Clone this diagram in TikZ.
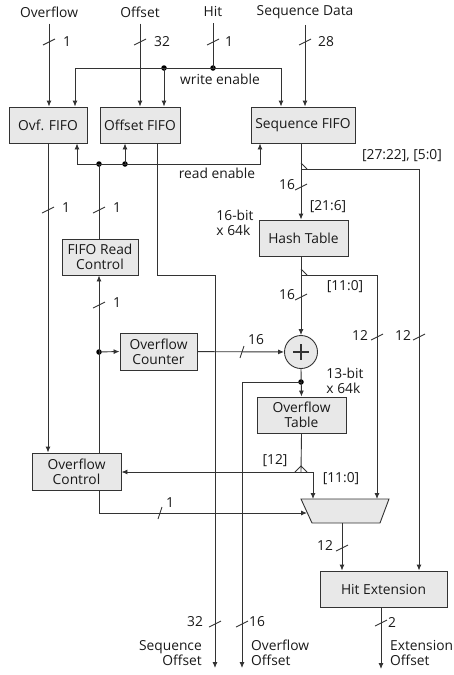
\documentclass[tikz,border=0pt]{standalone}
\usepackage{fontspec}
\setmainfont{Open Sans}
\usepackage{tikz}
\usetikzlibrary{
	arrows.meta,
	calc,
	positioning
}

\definecolor{boxgray}{HTML}{E8E8E8}
\definecolor{wiregray}{HTML}{333333}

\tikzset{
	blk/.style={draw=wiregray, fill=boxgray, line width=0.9pt, align=center,
		inner sep=1pt, font=\fontsize{13.8}{15}\selectfont, text=black!90},
	wire/.style={draw=wiregray, line width=0.9pt},
	arr/.style={wire, -{Latex[length=6pt,width=5pt]}},
	dot/.style={circle, fill=black, inner sep=0pt, minimum size=5.5pt},
	lbl/.style={font=\fontsize{13.8}{15}\selectfont, inner sep=1pt, text=black!90, align=center}
}

% bus slash on a vertical / horizontal wire
\newcommand{\vbus}[2]{\draw[wire] ($(#1,#2)+(-6,3)$) -- ($(#1,#2)+(6,-3)$);}
\newcommand{\hbus}[2]{\draw[wire] ($(#1,#2)+(-2,6)$) -- ($(#1,#2)+(2,-6)$);}
% bit split mark
\newcommand{\splitmark}[2]{\draw[wire] ($(#1,#2)+(0,-6)$) -- ($(#1,#2)+(6,0)$);}

\begin{document}
\begin{tikzpicture}[x=1pt, y=-1pt]
	\useasboundingbox (0,0) rectangle (453,675);
	
	% inputs
	\node[lbl] (inOvf) at (49,12) {Overflow};
	\node[lbl] (inOff) at (140,12) {Offset};
	\node[lbl] (inHit) at (213,12) {Hit};
	\node[lbl] (inSeq) at (305,12) {Sequence Data};
	
	% blocks
	\node[blk, minimum width=78, minimum height=36] (ovf) at (48,125) {Ovf. FIFO};
	\node[blk, minimum width=80, minimum height=36] (offs) at (140,125) {Offset FIFO};
	\node[blk, minimum width=104, minimum height=36] (seqf) at (303,125) {Sequence FIFO};
	\node[blk, minimum width=89, minimum height=36] (hash) at (303.5,238) {Hash Table};
	\node[blk, minimum width=76, minimum height=36] (frc) at (100,257) {FIFO Read\\Control};
	\node[blk, minimum width=77, minimum height=37] (ocnt) at (158.5,351.5) {Overflow\\Counter};
	\node[blk, circle, minimum size=33, inner sep=0pt,
		path picture={\draw[wiregray, line width=1.2pt]
			($(path picture bounding box.center)+(-8,0)$) -- ++(16,0)
			($(path picture bounding box.center)+(0,-8)$) -- ++(0,16);}] (add) at (301,352) {};
	\node[blk, minimum width=89, minimum height=36] (otab) at (301.5,415) {Overflow\\Table};
	\node[blk, minimum width=89, minimum height=37] (octl) at (76.5,471.5) {Overflow\\Control};
	\node[blk, minimum width=127, minimum height=36] (hext) at (383.5,589) {Hit Extension};
	\draw[wire, fill=boxgray] (301,499) coordinate (muxTL) -- (389,499) coordinate (muxTR)
		-- (380,523) coordinate (muxBR) -- (312,523) coordinate (muxBL) -- cycle;
	
	% helper points
	\coordinate (weL) at (75,68);
	\coordinate (weR) at (281,68);
	\coordinate (reL) at (77,164);
	\coordinate (reR) at (260,164);
	\coordinate (sb) at (301,169);
	\coordinate (sbR) at (419,169);
	\coordinate (hb) at (301,275);
	\coordinate (hbR) at (377,275);
	\coordinate (ob) at (301,472);
	\coordinate (obR) at (313,472);
	\coordinate (sqo1) at (157,275);
	\coordinate (sqo2) at (215,275);
	\coordinate (sqoOut) at (215,668);
	\coordinate (ofo1) at (242,382);
	\coordinate (ofoOut) at (242,668);
	\coordinate (ctl1) at (99,513);
	\coordinate (muxL) at (307,513);
	\coordinate (muxO) at (342,523);
	\coordinate (extO) at (381,607);
	\coordinate (extOut) at (381,669);
	
	% dots
	\node[dot] (we1) at (164,68) {};
	\node[dot] (we2) at (213,68) {};
	\node[dot] (re1) at (99,164) {};
	\node[dot] (re2) at (125,164) {};
	\node[dot] (cdot) at (99,352) {};
	\node[dot] (odot) at (301,382) {};
	
	% input wires
	\draw[arr, shorten <=5pt] (inOvf) -- (inOvf |- ovf.north);
	\draw[arr, shorten <=5pt] (inOff) -- (inOff |- offs.north);
	\draw[wire, shorten <=5pt] (inHit) -- (we2.center);
	\draw[arr, shorten <=5pt] (inSeq) -- (inSeq |- seqf.north);
	\vbus{49}{42} \vbus{140}{42} \vbus{213}{42} \vbus{305}{42}
	\node[lbl] (wOvf) at (67,42) {1};
	\node[lbl] (wOff) at (162,42) {32};
	\node[lbl] (wHit) at (229,42) {1};
	\node[lbl] (wSeq) at (326,42) {28};
	
	% write enable
	\draw[arr] (we2.center) -- (weL) -- (weL |- ovf.north);
	\draw[arr] (we2.center) -- (weR) -- (weR |- seqf.north);
	\draw[arr] (we1.center) -- (we1 |- offs.north);
	\node[lbl] (weLbl) at (220,79) {write enable};
	
	% read enable
	\draw[arr] (re1.center) -- (reL) -- (reL |- ovf.south);
	\draw[arr] (re1.center) -- (reR) -- (reR |- seqf.south);
	\draw[arr] (re2.center) -- (re2 |- offs.south);
	\draw[wire] (re1.center) -- (re1 |- frc.north);
	\node[lbl] (reLbl) at (217,173) {read enable};
	
	% ovf fifo -> overflow control
	\draw[arr] (ovf.south) -- (ovf.south |- octl.north);
	\vbus{48}{210}
	\node[lbl] (wOvf2) at (66,208) {1};
	\vbus{99}{210}
	\node[lbl] (wRe) at (117,208) {1};
	
	% offset fifo -> sequence offset
	\draw[arr] (offs.south -| sqo1) -- (sqo1) -- (sqo2) -- (sqoOut);
	\vbus{215}{624}
	\node[lbl] (wSqo) at (195,622) {32};
	\node[lbl, anchor=east, align=right] (outSqo) at (203,653) {Sequence\\Offset};
	
	% overflow control -> fifo read control, counter
	\draw[arr] (octl.north -| re1) -- (frc.south -| re1);
	\vbus{99}{305}
	\node[lbl] (wCtl) at (117,303) {1};
	\draw[arr] (cdot.center) -- (ocnt.west);
	\draw[arr] (ocnt) -- (add);
	\hbus{242}{352}
	\node[lbl] (wCnt) at (256,340) {16};
	
	% sequence fifo -> hash table, hit extension
	\draw[arr] (seqf.south -| sb) -- (hash.north -| sb);
	\draw[arr] (sb) -- (sbR) -- (sbR |- hext.north);
	\splitmark{301}{169}
	\vbus{301}{187}
	\node[lbl] (wSeq2) at (287,185) {16};
	\node[lbl] (bHash) at (328,207) {[21:6]};
	\node[lbl] (bExt) at (402,156) {[27:22], [5:0]};
	\node[lbl, align=left] (hashSz) at (235,223) {16-bit\\x 64k};
	
	% hash table -> adder, mux
	\draw[arr] (hash.south -| hb) -- (add.north);
	\draw[arr] (hb) -- (hbR) -- (hbR |- muxTL);
	\splitmark{301}{275}
	\vbus{301}{297}
	\node[lbl] (wHash) at (287,295) {16};
	\node[lbl] (bMux) at (345,287) {[11:0]};
	\vbus{377}{337} \vbus{419}{337}
	\node[lbl] (wMux) at (360,335) {12};
	\node[lbl] (wExt) at (403,335) {12};
	
	% adder -> overflow table, overflow offset
	\draw[arr] (add.south) -- (otab.north);
	\draw[arr] (odot.center) -- (ofo1) -- (ofoOut);
	\node[lbl, align=left] (otabSz) at (345,381) {13-bit\\x 64k};
	\vbus{242}{624}
	\node[lbl] (wOfo) at (257,622) {16};
	\node[lbl, anchor=west, align=left] (outOfo) at (250,653) {Overflow\\Offset};
	
	% overflow table -> overflow control, mux
	\draw[wire] (otab.south) -- (ob);
	\draw[arr] (ob) -- (ob -| octl.east);
	\draw[arr] (ob) -- (obR) -- (obR |- muxTL);
	\draw[wire] (295,472) -- (301,466) -- (307,472);
	\node[lbl] (bCtl) at (275,461) {[12]};
	\node[lbl] (bMux2) at (341,479) {[11:0]};
	
	% overflow control -> mux select
	\draw[arr] (octl.south -| ctl1) -- (ctl1) -- (muxL);
	\hbus{160}{513}
	\node[lbl] (wSel) at (170,503) {1};
	
	% mux -> hit extension
	\draw[arr] (muxO) -- (muxO |- hext.north);
	\vbus{342}{548}
	\node[lbl] (wMuxO) at (325,545) {12};
	
	% hit extension -> extension offset
	\draw[arr] (extO) -- (extOut);
	\vbus{381}{623}
	\node[lbl] (wExtO) at (392,622) {2};
	\node[lbl, anchor=west, align=left] (outExt) at (389,653) {Extension\\Offset};
\end{tikzpicture}
\end{document}
